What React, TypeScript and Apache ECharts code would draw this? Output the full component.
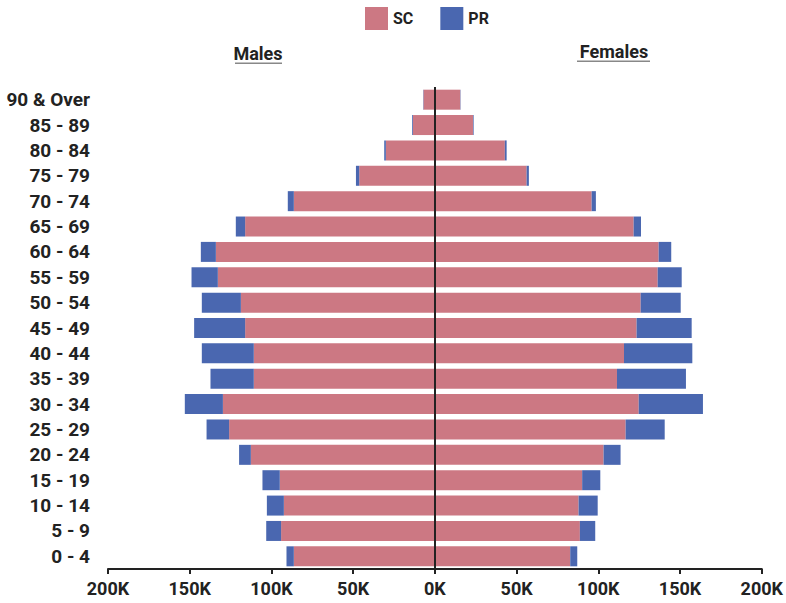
import React, { useEffect, useRef } from "react";
import * as echarts from "echarts";

const categories = [
  "0 - 4", "5 - 9", "10 - 14", "15 - 19", "20 - 24", "25 - 29", "30 - 34",
  "35 - 39", "40 - 44", "45 - 49", "50 - 54", "55 - 59", "60 - 64",
  "65 - 69", "70 - 74", "75 - 79", "80 - 84", "85 - 89", "90 & Over",
];

// values in thousands
const maleSC = [86.3, 94.1, 92.4, 94.9, 112.6, 125.9, 129.7, 110.8, 110.8, 116.1, 118.7, 132.8, 134.0, 116.1, 86.3, 46.3, 30.0, 13.4, 7.0];
const malePR = [4.5, 9.1, 10.4, 10.6, 7.2, 13.8, 23.3, 26.5, 31.8, 31.2, 23.9, 16.1, 9.2, 5.7, 3.7, 2.0, 1.0, 0.5, 0.2];
const femaleSC = [82.8, 88.7, 87.9, 90.1, 103.2, 116.7, 124.7, 111.4, 115.7, 123.4, 125.9, 136.3, 136.9, 121.6, 95.9, 56.1, 42.8, 23.3, 15.5];
const femalePR = [4.3, 9.4, 11.7, 11.1, 10.4, 23.9, 39.3, 42.2, 41.8, 33.7, 24.5, 14.7, 7.7, 4.5, 2.6, 1.4, 1.1, 0.4, 0.2];

const xTicks = { min: -200000, max: 200000, interval: 50000 };

const SC_COLOR = "#cc7883";
const PR_COLOR = "#4a67b0";
const FONT = "Roboto";

export default function App() {
  const ref = useRef<HTMLDivElement>(null);
  useEffect(() => {
    if (!ref.current) return;
    const chart = echarts.init(ref.current, null, { renderer: "svg" });
    const bar = (name: string, stack: string, data: number[], color: string, extra: any = {}) => ({
      name,
      type: "bar",
      stack,
      data,
      barWidth: 20,
      barGap: "-100%",
      itemStyle: { color },
      emphasis: { disabled: true },
      ...extra,
    });
    chart.setOption({
      animation: false,
      textStyle: { fontFamily: FONT },
      legend: {
        data: ["SC", "PR"],
        top: 2,
        left: 360,
        itemWidth: 23,
        itemHeight: 23,
        itemGap: 27,
        icon: "rect",
        textStyle: { fontFamily: FONT, fontWeight: "bold", fontSize: 16, color: "#222" },
      },
      graphic: [
        {
          type: "text",
          x: 258,
          y: 62,
          style: { text: "Males", font: `bold 18px ${FONT}`, fill: "#222", textAlign: "center", textVerticalAlign: "bottom" },
        },
        { type: "rect", shape: { x: 235, y: 62.5, width: 47, height: 1.6 }, style: { fill: "#888" } },
        {
          type: "text",
          x: 614,
          y: 60,
          style: { text: "Females", font: `bold 18px ${FONT}`, fill: "#222", textAlign: "center", textVerticalAlign: "bottom" },
        },
        { type: "rect", shape: { x: 577, y: 60.5, width: 73, height: 1.6 }, style: { fill: "#888" } },
      ],
      grid: { left: 108, right: 24, top: 87, bottom: 34, containLabel: false },
      xAxis: {
        type: "value",
        min: xTicks.min,
        max: xTicks.max,
        interval: xTicks.interval,
        splitLine: { show: false },
        axisLine: { show: true, lineStyle: { color: "#222", width: 2 } },
        axisTick: { show: true, length: 5, lineStyle: { color: "#222", width: 2 } },
        axisLabel: {
          fontFamily: FONT,
          fontWeight: "bold",
          fontSize: 18,
          color: "#222",
          margin: 10,
          formatter: (v: number) => Math.abs(v) / 1000 + "K",
        },
      },
      yAxis: {
        type: "category",
        data: categories,
        axisLine: { show: false, onZero: false },
        axisTick: { show: false },
        axisLabel: { fontFamily: FONT, fontWeight: "bold", fontSize: 19, color: "#222", margin: 18 },
      },
      series: [
        bar("SC", "male", maleSC.map((v) => -v * 1000), SC_COLOR, {
          markLine: {
            silent: true,
            symbol: "none",
            label: { show: false },
            lineStyle: { color: "#222", width: 2, type: "solid" },
            data: [{ xAxis: 0 }],
          },
        }),
        bar("PR", "male", malePR.map((v) => -v * 1000), PR_COLOR),
        bar("SC", "female", femaleSC.map((v) => v * 1000), SC_COLOR),
        bar("PR", "female", femalePR.map((v) => v * 1000), PR_COLOR),
      ],
    });
    return () => chart.dispose();
  }, []);
  return <div ref={ref} style={{ width: 786, height: 603, position: "absolute", left: 0, top: 0 }} />;
}
